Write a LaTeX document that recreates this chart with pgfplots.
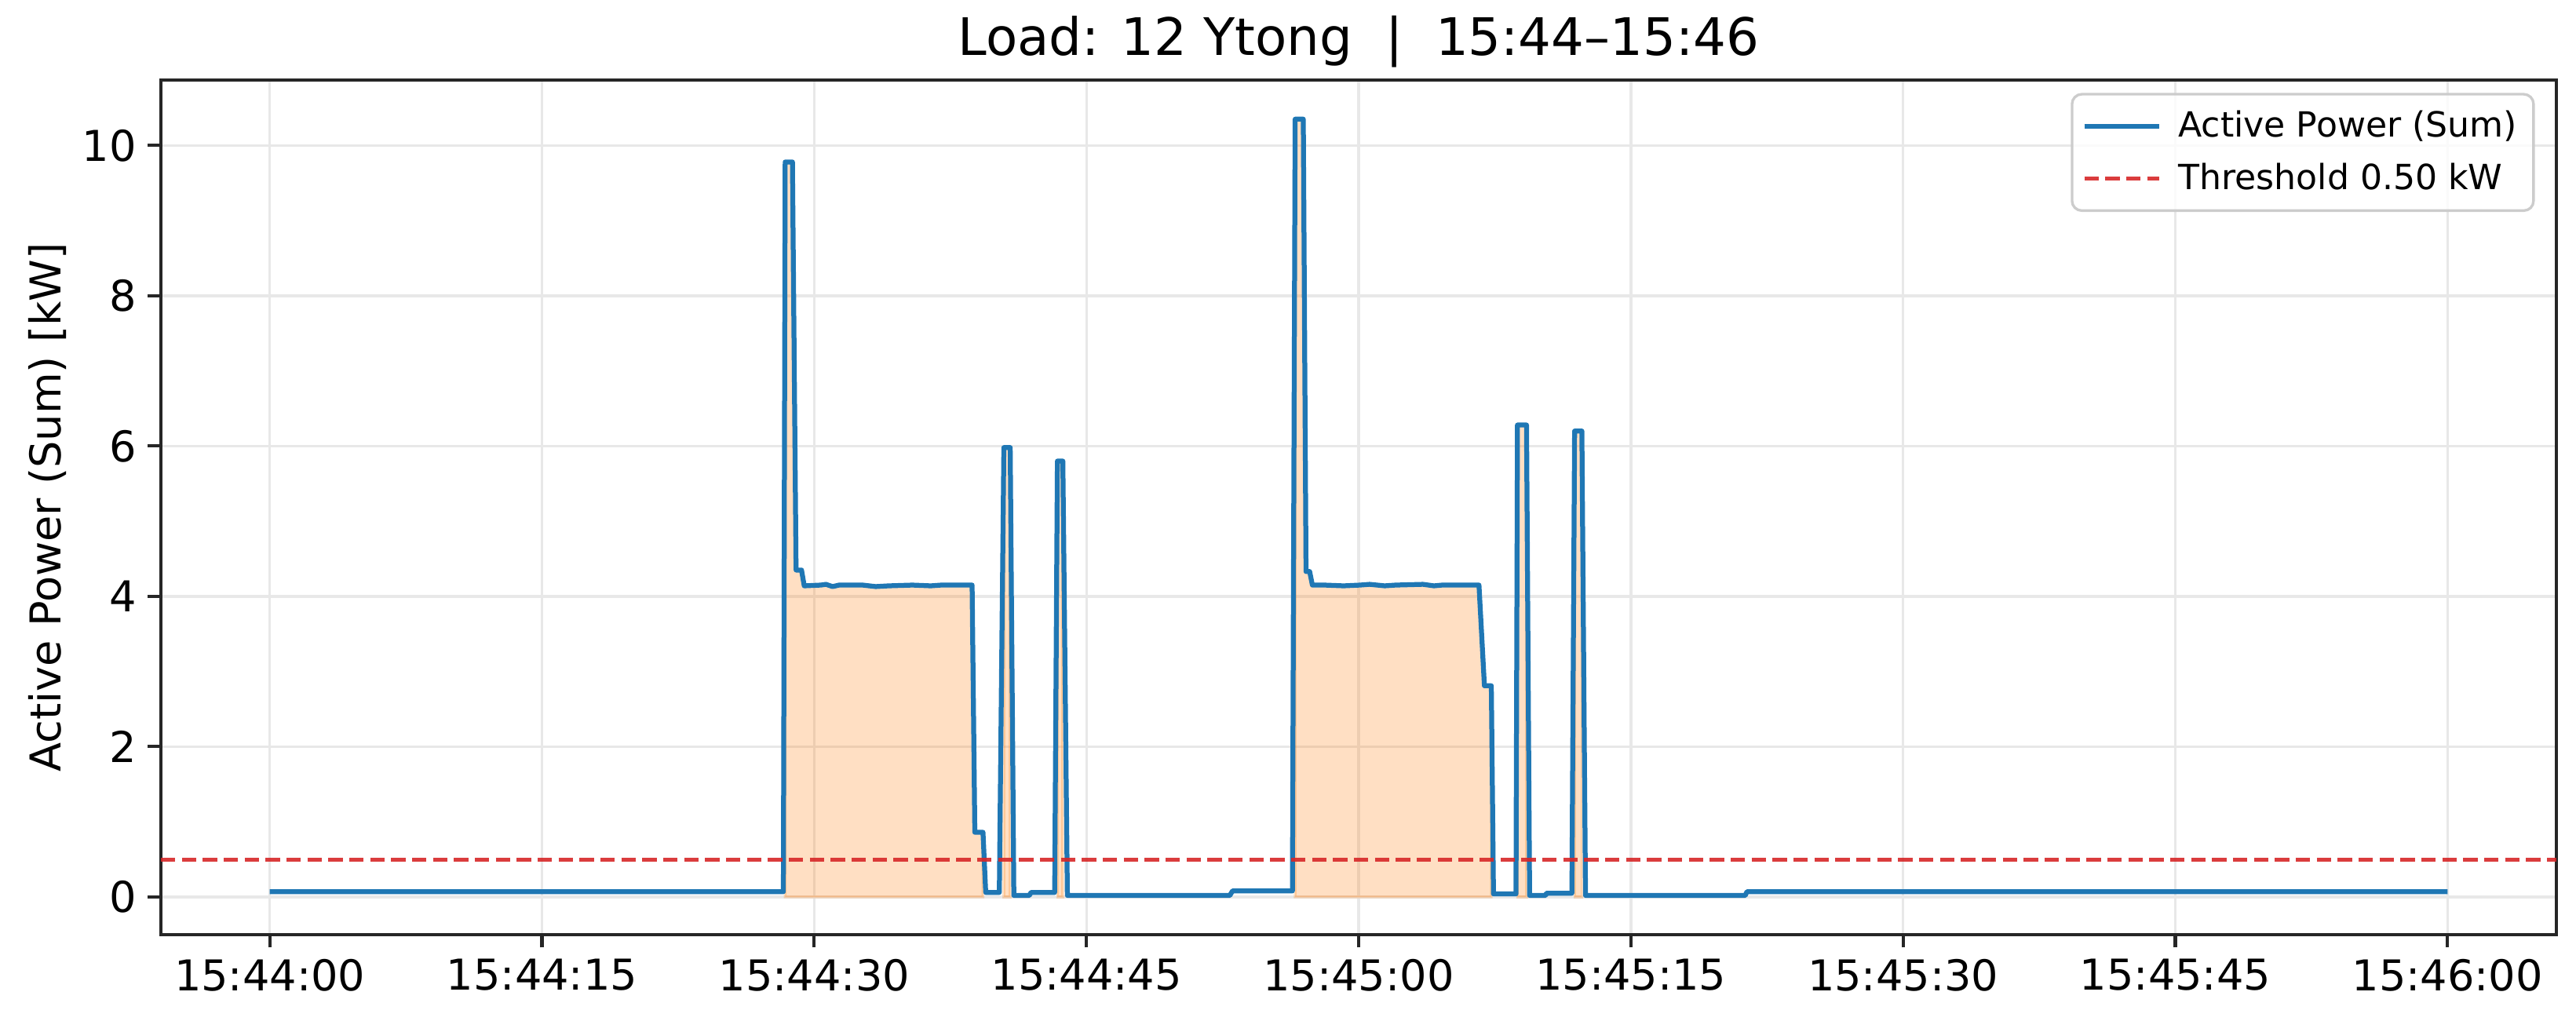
\documentclass[border=0pt]{standalone}
\usepackage{fontspec}
\setmainfont{DejaVu Sans}
\usepackage{pgfplots}
\pgfplotsset{compat=1.18}

\definecolor{tabblue}{HTML}{1F77B4}
\definecolor{taborange}{HTML}{FF7F0E}
\definecolor{tabred}{HTML}{D62728}
\definecolor{gridc}{HTML}{E8E8E8}
\definecolor{spine}{HTML}{262626}

\begin{document}
\begin{tikzpicture}
\begin{axis}[
  name=ax,
  scale only axis,
  width=732.5pt, height=261.3pt,
  xmin=-6, xmax=126, ymin=-0.5, ymax=10.87,
  xtick={0,15,...,120},
  xticklabels={15:44:00,15:44:15,15:44:30,15:44:45,15:45:00,15:45:15,15:45:30,15:45:45,15:46:00},
  ytick={0,2,...,10},
  /pgf/number format/assume math mode=true,
  grid=major,
  major grid style={gridc, line width=0.8pt},
  axis line style={spine, line width=1pt},
  tick align=outside, tick pos=left,
  major tick length=4pt,
  tick style={spine, line width=1pt},
  tick label style={font=\fontsize{13}{15.5}\selectfont},
  ylabel={Active Power (Sum) [kW]},
  ylabel style={font=\fontsize{13}{15.5}\selectfont, yshift=-2pt},
  title={Load: 12 Ytong\ \ |\ \ 15:44–15:46},
  title style={font=\fontsize{15.8}{18}\selectfont, anchor=base, at={(0.5,1)}, yshift=1.5pt},
  legend style={at={(0.991,0.985)}, anchor=north east,
                font=\fontsize{10.6}{12.5}\selectfont,
                draw=black!20, line width=0.8pt, rounded corners=3pt,
                fill=white, fill opacity=0.8, text opacity=1,
                inner xsep=3pt, inner ysep=3pt, row sep=2.5pt,
                /tikz/every odd column/.append style={column sep=3pt}},
  legend cell align=left,
  legend image code/.code={\draw[#1] (0pt,0pt) -- (23pt,0pt);},
  area/.style={fill=taborange, fill opacity=0.25, draw=taborange,
               draw opacity=0.25, line width=0.8pt, forget plot},
]

% above-threshold areas
\addplot[area] coordinates {
  (28.4,0) (28.4,9.78) (28.8,9.78) (29.0,4.35) (29.3,4.35) (29.45,4.14)
  (30.36,4.15) (30.65,4.16) (31.01,4.13) (31.37,4.15) (32.67,4.15) (33.39,4.13)
  (34.11,4.14) (35.41,4.15) (36.42,4.14) (37.0,4.15) (37.86,4.15) (38.7,4.15)
  (38.85,0.86) (39.3,0.86) (39.3,0)} -- cycle;
\addplot[area] coordinates {(40.45,0) (40.45,5.98) (40.8,5.98) (40.8,0)} -- cycle;
\addplot[area] coordinates {(43.4,0) (43.4,5.8) (43.7,5.8) (43.7,0)} -- cycle;
\addplot[area] coordinates {
  (56.5,0) (56.5,10.35) (56.95,10.35) (57.1,4.33) (57.3,4.33) (57.45,4.15)
  (58.12,4.15) (59.17,4.14) (60.08,4.15) (60.6,4.16) (61.43,4.14) (62.04,4.15)
  (63.54,4.16) (64.15,4.14) (64.6,4.15) (66.48,4.15) (66.63,4.15)
  (66.93,2.81) (67.31,2.81) (67.31,0)} -- cycle;
\addplot[area] coordinates {(68.75,0) (68.75,6.28) (69.25,6.28) (69.25,0)} -- cycle;
\addplot[area] coordinates {(71.9,0) (71.9,6.2) (72.3,6.2) (72.3,0)} -- cycle;

% measured power
\addplot[tabblue, line width=1.5pt, line join=round] coordinates {
  (0,0.07) (28.3,0.07) (28.4,9.78) (28.8,9.78) (29.0,4.35) (29.3,4.35) (29.45,4.14)
  (30.36,4.15) (30.65,4.16) (31.01,4.13) (31.37,4.15) (32.67,4.15) (33.39,4.13)
  (34.11,4.14) (35.41,4.15) (36.42,4.14) (37.0,4.15) (37.86,4.15) (38.7,4.15)
  (38.85,0.86) (39.3,0.86) (39.45,0.06) (40.2,0.06) (40.45,5.98) (40.8,5.98)
  (41.0,0.02) (41.85,0.02) (41.95,0.06) (43.25,0.06) (43.4,5.8) (43.7,5.8)
  (43.95,0.02) (52.9,0.02) (53.05,0.08) (56.35,0.08) (56.5,10.35) (56.95,10.35)
  (57.1,4.33) (57.3,4.33) (57.45,4.15)
  (58.12,4.15) (59.17,4.14) (60.08,4.15) (60.6,4.16) (61.43,4.14) (62.04,4.15)
  (63.54,4.16) (64.15,4.14) (64.6,4.15) (66.48,4.15) (66.63,4.15)
  (66.93,2.81) (67.31,2.81) (67.43,0.04) (68.67,0.04) (68.75,6.28) (69.25,6.28)
  (69.42,0.02) (70.3,0.02) (70.35,0.05) (71.75,0.05) (71.9,6.2) (72.3,6.2)
  (72.5,0.02) (81.3,0.02) (81.4,0.07) (120,0.07)
};
\addlegendentry{Active Power (Sum)}

% threshold
\addplot[tabred, opacity=0.9, line width=1.2pt, dash pattern=on 4.4pt off 2pt]
  coordinates {(-6,0.5) (126,0.5)};
\addlegendentry{Threshold 0.50 kW}

\end{axis}
\pgfresetboundingbox
\path ([shift={(-49.2pt,-26.4pt)}]ax.south west) rectangle ([shift={(6pt,24.5pt)}]ax.north east);
\end{tikzpicture}
\end{document}
